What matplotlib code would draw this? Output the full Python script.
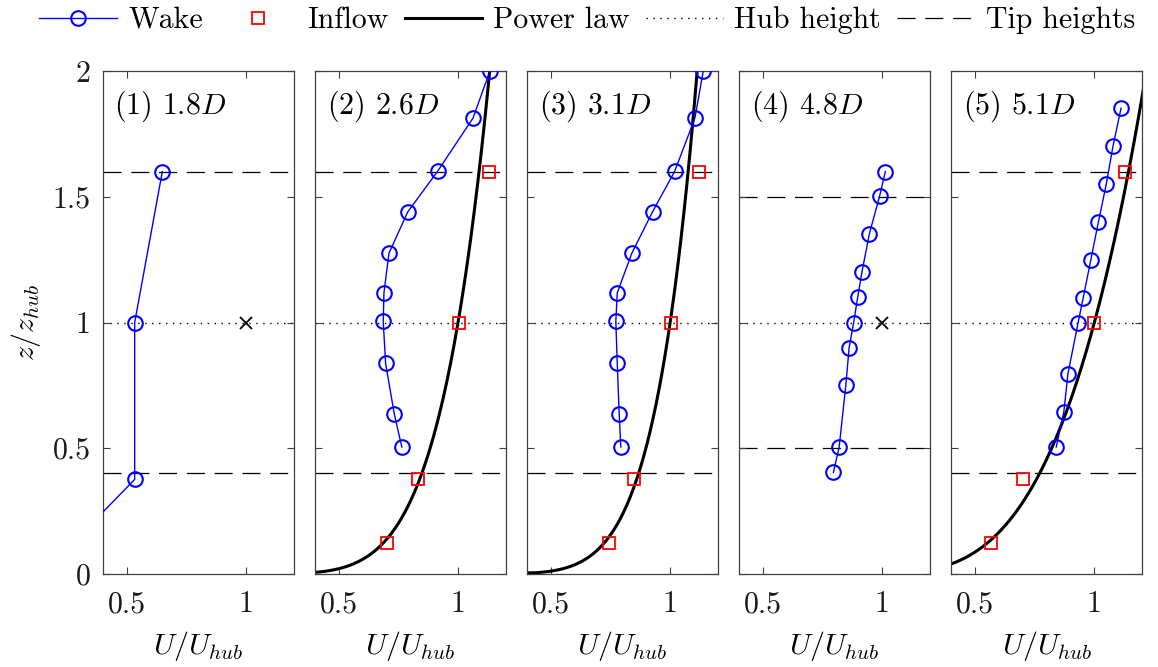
import numpy as np
import matplotlib
matplotlib.use("Agg")
import matplotlib.pyplot as plt
from matplotlib.lines import Line2D

plt.rcParams['font.family'] = 'serif'
plt.rcParams['font.serif'] = ['cmr10']
plt.rcParams['mathtext.fontset'] = 'cm'
plt.rcParams['axes.formatter.use_mathtext'] = True
plt.rcParams['lines.scale_dashes'] = False

# --- profils mesures (U/Uhub en fonction de z/zhub) ---
labels = ["(1) 1.8$D$", "(2) 2.6$D$", "(3) 3.1$D$", "(4) 4.8$D$", "(5) 5.1$D$"]

wake_z = [
    [0.12, 0.376, 1.0, 1.6],
    [0.505, 0.638, 0.837, 1.004, 1.118, 1.275, 1.44, 1.601, 1.813, 2.0],
    [0.505, 0.638, 0.837, 1.004, 1.118, 1.275, 1.44, 1.601, 1.813, 2.0],
    [0.404, 0.504, 0.75, 0.90, 1.0, 1.101, 1.202, 1.353, 1.503, 1.60],
    [0.505, 0.646, 0.796, 1.0, 1.098, 1.248, 1.40, 1.55, 1.70, 1.852],
]
wake_u = [
    [0.27, 0.533, 0.533, 0.649],
    [0.764, 0.732, 0.696, 0.686, 0.689, 0.710, 0.789, 0.914, 1.063, 1.134],
    [0.793, 0.786, 0.778, 0.772, 0.778, 0.839, 0.926, 1.019, 1.104, 1.139],
    [0.795, 0.819, 0.847, 0.861, 0.880, 0.897, 0.915, 0.946, 0.989, 1.013],
    [0.840, 0.872, 0.889, 0.932, 0.953, 0.985, 1.017, 1.050, 1.078, 1.112],
]

inflow_z = [0.123, 0.376, 1.0, 1.6]
inflow_u = [None,
            [0.703, 0.831, 1.002, 1.131],
            [0.743, 0.847, 1.003, 1.122],
            None,
            [0.566, 0.702, 1.0, 1.128]]

alpha = [None, 0.18, 0.155, None, 0.285]     # exposant de la loi de puissance
hub_ref = [(1.0, 1.0), None, None, (1.0, 1.0), None]
tips = [(0.4, 1.6), (0.4, 1.6), (0.4, 1.6), (0.5, 1.5), (0.4, 1.6)]

fs = 21.5
dash = (0, (13, 7))
dot = (0, (1, 4))

fig = plt.figure(figsize=(11.58, 6.67), dpi=100)
axes = fig.subplots(1, 5, sharey=True)
fig.subplots_adjust(left=103/1158, right=1142/1158, bottom=1-574/667,
                    top=1-71/667, wspace=0.113)

for i, ax in enumerate(axes):
    for zt in tips[i]:
        ax.axhline(zt, color='k', lw=0.9, ls=dash, zorder=1)
    ax.axhline(1.0, color='k', lw=1.0, ls=dot, zorder=1)

    if alpha[i] is not None:
        zz = np.linspace(0, 2, 400)
        ax.plot(zz**alpha[i], zz, color='k', lw=2.2, zorder=2)
    if inflow_u[i] is not None:
        ax.plot(inflow_u[i], inflow_z, ls='none', marker='s', ms=8.5,
                mfc='none', mec='r', mew=1.3, zorder=3)
    if hub_ref[i] is not None:
        ax.plot(*hub_ref[i], marker='x', ms=9, mec='k', mew=1.3, zorder=3)

    ax.plot(wake_u[i], wake_z[i], color='b', lw=1.0, marker='o', ms=10.5,
            mfc='none', mec='b', mew=1.5, zorder=4)

    ax.text(0.06, 0.965, labels[i], transform=ax.transAxes, fontsize=fs,
            ha='left', va='top')

    ax.set_xlim(0.4, 1.2)
    ax.set_ylim(0, 2)
    ax.set_xticks([0.5, 1])
    ax.set_xticklabels(['0.5', '1'])
    ax.tick_params(direction='in', top=True, right=True, length=5, width=0.8,
                   color='0.25', labelsize=fs, labelcolor='0.1')
    ax.tick_params(axis='x', pad=12)
    ax.tick_params(axis='y', pad=9)
    for s in ax.spines.values():
        s.set_color('0.25')
        s.set_linewidth(0.9)
    ax.set_xlabel(r'$U/U_{hub}$', fontsize=fs, labelpad=8)

axes[0].set_yticks([0, 0.5, 1, 1.5, 2])
axes[0].set_yticklabels(['0', '0.5', '1', '1.5', '2'])
axes[0].set_ylabel(r'$z/z_{hub}$', fontsize=fs, labelpad=7)

handles = [
    Line2D([], [], color='b', lw=1.0, marker='o', ms=10.5, mfc='none', mec='b', mew=1.5),
    Line2D([], [], ls='none', marker='s', ms=8.5, mfc='none', mec='r', mew=1.3),
    Line2D([], [], color='k', lw=2.2),
    Line2D([], [], color='k', lw=1.0, ls=dot),
    Line2D([], [], color='k', lw=0.9, ls=dash),
]
names = ["Wake", "Inflow", "Power law", "Hub height", "Tip heights"]
fig.legend(handles, names, loc='center', bbox_to_anchor=(0.507, 1-20/667),
           ncol=5, frameon=False, fontsize=fs, handlelength=2.6,
           handletextpad=0.37, columnspacing=0.53, borderaxespad=0)

fig.savefig("out.png", dpi=100)
